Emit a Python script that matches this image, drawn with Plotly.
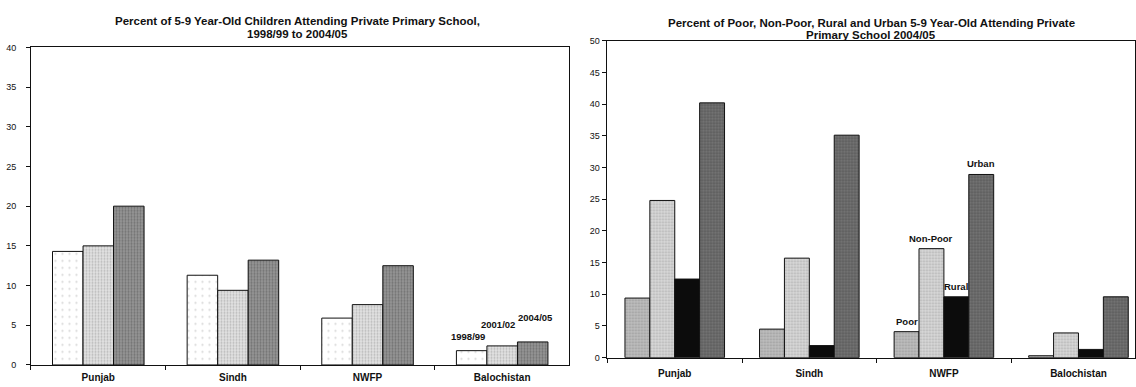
import plotly.graph_objects as go

# ---------------- data ----------------
regions = ["Punjab", "Sindh", "NWFP", "Balochistan"]

years = ["1998/99", "2001/02", "2004/05"]
share_1998 = [14.3, 11.3, 5.9, 1.8]
share_2001 = [15.0, 9.4, 7.6, 2.4]
share_2004 = [20.0, 13.2, 12.5, 2.9]

groups = ["Poor", "Non-Poor", "Rural", "Urban"]
poor = [9.4, 4.5, 4.1, 0.3]
non_poor = [24.8, 15.7, 17.2, 3.9]
rural = [12.4, 1.9, 9.6, 1.3]
urban = [40.2, 35.1, 28.9, 9.6]

left_ticks = list(range(0, 41, 5))
right_ticks = list(range(0, 51, 5))

left_title = ["Percent of 5-9 Year-Old Children Attending Private Primary School,",
              "1998/99 to 2004/05"]
right_title = ["Percent of Poor, Non-Poor, Rural and Urban 5-9 Year-Old Attending Private",
               "Primary School 2004/05"]

# ---------------- styling ----------------
W, H = 1136, 387
FONT = "Liberation Sans, Arial, sans-serif"

left_styles = [
    dict(bg="#ffffff", fg="#b0b0b0", size=7, sol=0.08),
    dict(bg="#e2e2e2", fg="#8c8c8c", size=3, sol=0.35),
    dict(bg="#9a9a9a", fg="#4a4a4a", size=3, sol=0.45),
]
right_styles = [
    dict(bg="#c0c0c0", fg="#777777", size=3, sol=0.4),
    dict(bg="#d8d8d8", fg="#8a8a8a", size=3, sol=0.35),
    dict(bg="#0c0c0c", fg="#0c0c0c", size=3, sol=0.0),
    dict(bg="#767676", fg="#3a3a3a", size=3, sol=0.45),
]

fig = go.Figure()

def add_group(series, names, styles, xa, ya, frac):
    n = len(series)
    w = frac / n
    offs = []
    for i, (vals, name, st) in enumerate(zip(series, names, styles)):
        off = -frac / 2 + i * w
        offs.append(off)
        pat = dict(shape=".", fgcolor=st["fg"], bgcolor=st["bg"],
                   size=st["size"], solidity=st["sol"]) if st["sol"] > 0 else dict(shape="")
        fig.add_trace(go.Bar(
            x=regions, y=vals, name=name, xaxis=xa, yaxis=ya,
            width=w, offset=off,
            marker=dict(color=st["bg"], line=dict(color="#111111", width=1), pattern=pat),
            showlegend=False, hoverinfo="x+y",
        ))
    return w, offs

series_left = [share_1998, share_2001, share_2004]
wl, offl = add_group(series_left, years, left_styles, "x", "y", 0.68)
series_right = [poor, non_poor, rural, urban]
wr, offr = add_group(series_right, groups, right_styles, "x2", "y2", 0.74)

ann = []
# year labels above Balochistan bars (left chart)
bi = regions.index("Balochistan")
yshift_l = [7, 14, 17]
xshift_l = [-4, -4, 3]
for i, (name, s) in enumerate(zip(years, series_left)):
    ann.append(dict(x=bi + offl[i] + wl / 2, y=s[bi], xref="x", yref="y",
                    text="<b>%s</b>" % name, showarrow=False, yanchor="bottom",
                    xshift=xshift_l[i], yshift=yshift_l[i],
                    font=dict(family=FONT, size=9.5, color="#111")))
# group labels above NWFP bars (right chart)
ni = regions.index("NWFP")
for i, (name, s) in enumerate(zip(groups, series_right)):
    ann.append(dict(x=ni + offr[i] + wr / 2, y=s[ni], xref="x2", yref="y2",
                    text="<b>%s</b>" % name, showarrow=False, yanchor="bottom", yshift=3,
                    font=dict(family=FONT, size=9.5, color="#111")))

# titles
def title_lines(lines, xc, ys):
    for t, yy in zip(lines, ys):
        ann.append(dict(x=xc / W, y=1 - yy / H, xref="paper", yref="paper",
                        text="<b>%s</b>" % t, showarrow=False,
                        xanchor="center", yanchor="middle",
                        font=dict(family=FONT, size=11.5, color="#111")))

title_lines(left_title, 298, [16, 30])
title_lines(right_title, 872, [18, 31])

axis_common = dict(showgrid=False, zeroline=False, showline=True,
                   linecolor="#111", linewidth=1, mirror=True,
                   ticks="outside", tickcolor="#111", ticklen=4,
                   tickprefix="<b>", ticksuffix="</b>")
yfont = dict(family=FONT, size=9, color="#111")
xfont = dict(family=FONT, size=10, color="#111")

fig.update_layout(
    width=W, height=H, margin=dict(l=0, r=0, t=0, b=0),
    paper_bgcolor="white", plot_bgcolor="white",
    barmode="group",
    font=dict(family=FONT, color="#111"),
    xaxis=dict(domain=[31 / W, 570 / W], anchor="y", type="category",
               range=[-0.5, 3.5], tickson="boundaries", tickfont=xfont,
               ticklabelstandoff=3, **axis_common),
    yaxis=dict(domain=[1 - 369.5 / H, 1 - 43.5 / H], anchor="x",
               range=[0, 40], tickvals=left_ticks, ticklabelstandoff=8,
               tickfont=yfont, **axis_common),
    xaxis2=dict(domain=[608 / W, 1.0], anchor="y2", type="category",
                range=[-0.5, 3.42], tickson="boundaries", tickfont=xfont,
                ticklabelstandoff=6, **axis_common),
    yaxis2=dict(domain=[1 - 362 / H, 1 - 36.7 / H], anchor="x2",
                range=[0, 50], tickvals=right_ticks, ticklabelstandoff=1,
                tickfont=yfont, **axis_common),
    annotations=ann,
)

fig.write_html(
    "out.html",
    config={"displayModeBar": False},
    post_script="document.body.style.margin='0px';document.body.style.padding='0px';"
                "document.body.style.overflow='hidden';",
)
